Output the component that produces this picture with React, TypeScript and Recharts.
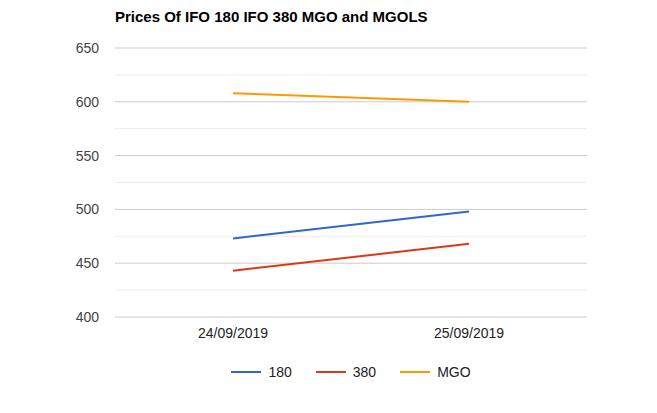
import { LineChart, Line, XAxis, YAxis, CartesianGrid, ReferenceLine, Legend } from 'recharts';

const dates = ['24/09/2019', '25/09/2019'];
const ifo180 = [473, 498];
const ifo380 = [443, 468];
const mgo = [608, 600];
const majorTicks = [400, 450, 500, 550, 600, 650];
const minorTicks = [425, 475, 525, 575, 625];

const SERIES = [
  { key: '180', color: '#3366cc' },
  { key: '380', color: '#dc3912' },
  { key: 'MGO', color: '#ff9900' },
];

const data = dates.map((d, i) => ({ date: d, '180': ifo180[i], '380': ifo380[i], MGO: mgo[i] }));

const FONT = 'Arial, "Liberation Sans", sans-serif';

function LegendContent() {
  return (
    <div style={{ display: 'flex', justifyContent: 'center', gap: 24, fontFamily: FONT, fontSize: 14, color: '#222', paddingLeft: 115, marginTop: -1 }}>
      {SERIES.map((s) => (
        <div key={s.key} style={{ display: 'flex', alignItems: 'center' }}>
          <span style={{ display: 'inline-block', width: 30, height: 2, background: s.color, marginRight: 7 }} />
          <span>{s.key}</span>
        </div>
      ))}
    </div>
  );
}

export default function App() {
  return (
    <div style={{ position: 'absolute', left: 0, top: 0, width: 657, height: 413, background: '#fff' }}>
      <div style={{ position: 'absolute', left: 115, top: 8, fontFamily: FONT, fontSize: 15, fontWeight: 'bold', color: '#000' }}>
        Prices Of IFO 180 IFO 380 MGO and MGOLS
      </div>
      <LineChart width={657} height={413} data={data} margin={{ top: 48, right: 70, bottom: 0, left: 0 }}>
        <CartesianGrid vertical={false} stroke="#cccccc" />
        {minorTicks.map((v) => (
          <ReferenceLine key={v} y={v} stroke="#ebebeb" />
        ))}
        <XAxis
          dataKey="date"
          scale="band"
          axisLine={false}
          tickLine={false}
          tickSize={0}
          tickMargin={11}
          height={48}
          tick={{ fill: '#222', fontSize: 14, fontFamily: FONT }}
        />
        <YAxis
          domain={[400, 650]}
          ticks={majorTicks}
          width={115}
          axisLine={false}
          tickLine={false}
          tickSize={0}
          tickMargin={16}
          tick={{ fill: '#444', fontSize: 14, fontFamily: FONT }}
        />
        <Legend verticalAlign="bottom" height={48} content={<LegendContent />} />
        {SERIES.map((s) => (
          <Line key={s.key} dataKey={s.key} stroke={s.color} strokeWidth={2} dot={false} isAnimationActive={false} />
        ))}
      </LineChart>
    </div>
  );
}
